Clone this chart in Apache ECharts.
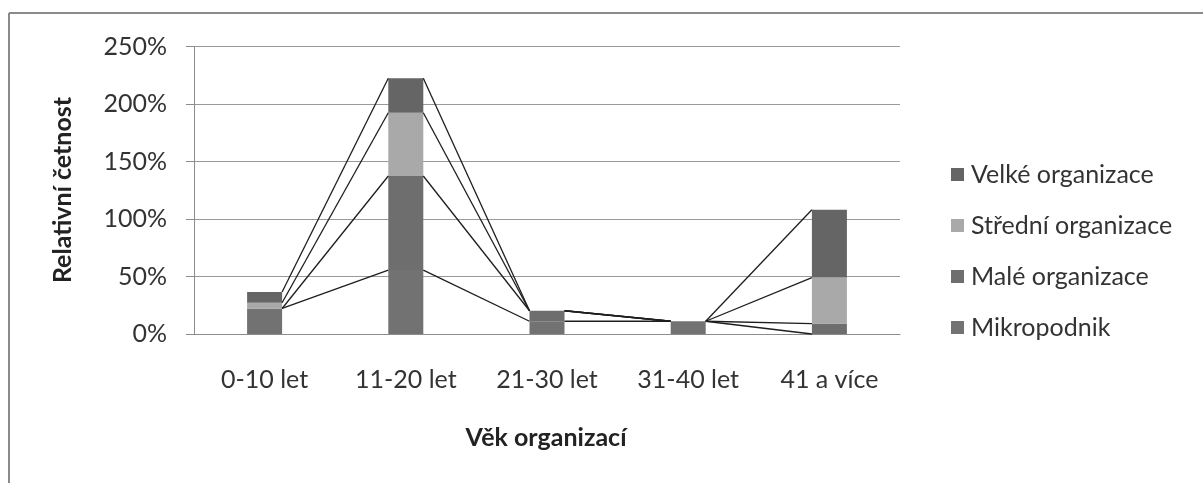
<!DOCTYPE html>
<html>
<head>
<meta charset="utf-8">
<script src="https://cdn.jsdelivr.net/npm/echarts@6/dist/echarts.min.js"></script>
<style>
html,body{margin:0;padding:0;background:#fff;}
#chart{width:1203px;height:483px;}
</style>
</head>
<body>
<div id="chart"></div>
<script>
// vek organizaci (osa x)
var categories = ['0-10 let', '11-20 let', '21-30 let', '31-40 let', '41 a více'];
// relativni cetnost v %
var mikropodnik = [22.2, 55.6, 11.1, 11.1, 0];
var maleOrg = [0, 81.8, 9.1, 0, 9.1];
var stredniOrg = [5.0, 55.0, 0, 0, 40.0];
var velkeOrg = [9.3, 30.0, 0, 0, 59.0];
var yTicks = [0, 50, 100, 150, 200, 250];

var seriesNames = ['Mikropodnik', 'Malé organizace', 'Střední organizace', 'Velké organizace'];
var seriesData = [mikropodnik, maleOrg, stredniOrg, velkeOrg];
var colors = ['#727272', '#6e6e6e', '#a9a9a9', '#656565'];
var font = 'Lato';
var barW = 35;

// kumulativni soucty pro spojovaci cary
var cum = [];
var run = categories.map(function () { return 0; });
seriesData.forEach(function (arr) {
    run = run.map(function (v, i) { return v + arr[i]; });
    cum.push(run.slice());
});
var lineData = [];
cum.forEach(function (c, k) {
    for (var i = 0; i < categories.length - 1; i++) {
        lineData.push([i, c[i], i + 1, c[i + 1]]);
    }
});

var series = seriesData.map(function (arr, k) {
    return {
        name: seriesNames[k],
        type: 'bar',
        stack: 'all',
        barWidth: barW,
        itemStyle: {color: colors[k]},
        data: arr
    };
});
series.push({
    type: 'custom',
    silent: true,
    z: 3,
    renderItem: function (params, api) {
        var p1 = api.coord([api.value(0), api.value(1)]);
        var p2 = api.coord([api.value(2), api.value(3)]);
        return {
            type: 'line',
            shape: {x1: p1[0] + barW / 2, y1: p1[1], x2: p2[0] - barW / 2, y2: p2[1]},
            style: {stroke: '#1e1e1e', lineWidth: 1.3}
        };
    },
    encode: {x: 0, y: 1},
    data: lineData
});

var chart = echarts.init(document.getElementById('chart'));
chart.setOption({
    animation: false,
    backgroundColor: '#fff',
    grid: {left: 194, right: 303, top: 46.5, bottom: 149},
    legend: {
        data: ['Velké organizace', 'Střední organizace', 'Malé organizace', 'Mikropodnik'],
        orient: 'vertical',
        left: 946,
        top: 157,
        itemWidth: 13,
        itemHeight: 13,
        itemGap: 26,
        icon: 'rect',
        textStyle: {fontFamily: font, fontSize: 25, color: '#333', padding: [0, 0, 0, 2]}
    },
    xAxis: {
        type: 'category',
        data: categories,
        axisLine: {lineStyle: {color: '#8c8c8c', width: 1}},
        axisTick: {show: false},
        axisLabel: {interval: 0, margin: 33, fontFamily: font, fontSize: 25, color: '#333'}
    },
    yAxis: {
        type: 'value',
        min: yTicks[0],
        max: yTicks[yTicks.length - 1],
        interval: 50,
        axisLine: {show: true, lineStyle: {color: '#8c8c8c'}},
        axisTick: {show: true, length: 8, lineStyle: {color: '#8c8c8c'}},
        splitLine: {lineStyle: {color: '#999', width: 1}},
        axisLabel: {formatter: '{value}%', margin: 27, fontFamily: font, fontSize: 25, color: '#333'}
    },
    graphic: [
        {type: 'line', shape: {x1: 9, y1: 13, x2: 1203, y2: 13}, style: {stroke: '#8a8a8a', lineWidth: 2}},
        {type: 'line', shape: {x1: 9, y1: 13, x2: 9, y2: 483}, style: {stroke: '#8a8a8a', lineWidth: 2}},
        {type: 'text', x: 546, y: 438, style: {text: 'Věk organizací', font: 'bold 25px Lato', fill: '#222', align: 'center', verticalAlign: 'middle'}},
        {type: 'text', x: 63, y: 190, rotation: Math.PI / 2, style: {text: 'Relativní četnost', font: 'bold 25px Lato', fill: '#222', align: 'center', verticalAlign: 'middle'}}
    ],
    series: series
});
</script>
</body>
</html>
